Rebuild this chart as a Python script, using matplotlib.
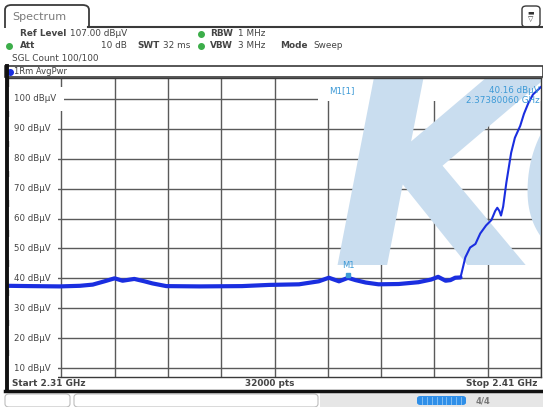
import matplotlib
matplotlib.use("Agg")
import matplotlib.pyplot as plt
from matplotlib.patches import Rectangle, FancyBboxPatch
from matplotlib.lines import Line2D
import numpy as np

# trace (GHz, dBuV)
freq_ghz = [2.3100, 2.3141, 2.3197, 2.3235, 2.3259, 2.3281, 2.3300, 2.3315, 2.3337,
            2.3356, 2.3371, 2.3397, 2.3459, 2.3539, 2.3590, 2.3646, 2.3683, 2.3702,
            2.3721, 2.3738, 2.3752, 2.3771, 2.3795, 2.3833, 2.3870, 2.3894, 2.3907,
            2.3921, 2.3930, 2.3939, 2.3949, 2.3954, 2.3958, 2.3967, 2.3977, 2.3986,
            2.3997, 2.4007, 2.4014, 2.4018, 2.4022, 2.4025, 2.4029, 2.4035, 2.4044,
            2.4051, 2.4061, 2.4068, 2.4076, 2.4085, 2.4094, 2.4100]
level_dbuv = [37.5, 37.4, 37.3, 37.5, 37.9, 39.0, 40.0, 39.2, 39.8,
              39.0, 38.3, 37.4, 37.3, 37.4, 37.8, 38.0, 39.0, 40.2,
              39.0, 40.16, 39.4, 38.6, 38.0, 38.1, 38.7, 39.6, 40.5,
              39.2, 39.4, 40.2, 40.3, 44.0, 47.0, 50.3, 51.5, 55.0,
              57.7, 59.5, 62.5, 63.6, 62.5, 61.0, 64.0, 72.0, 82.0,
              87.0, 91.0, 95.0, 98.5, 101.5, 103.0, 104.0]
n_flat = 31  # points before the steep rise (drawn thicker, noisy looking)

ref_level = 107
bottom_level = 7
y_ticks = [10, 20, 30, 40, 50, 60, 70, 80, 90, 100]
f_start, f_stop = 2.31, 2.41
marker_f = 2.3738006
marker_v = 40.16

W, H = 543, 407
def fx(x):
    return x / W
def fy(y):
    return 1 - y / H

fig = plt.figure(figsize=(W / 100, H / 100), dpi=100)
fig.patch.set_facecolor("white")

dark = "#3a3a3a"
txt = "#444444"
mk_blue = "#3d9ad6"
trace_blue = "#1a2ee0"

# ---- main diagram
ax = fig.add_axes([fx(8), fy(377), fx(541) - fx(8), fy(78) - fy(377)])
ax.set_xlim(f_start, f_stop)
ax.set_ylim(bottom_level, ref_level)
ax.set_xticks(np.linspace(f_start, f_stop, 11))
ax.set_yticks(y_ticks)
ax.tick_params(length=0, labelleft=False, labelbottom=False)
ax.grid(True, color="#5a5a5a", lw=1.0, zorder=1)
ax.set_axisbelow(True)
for s in ax.spines.values():
    s.set_color(dark)
    s.set_linewidth(1.0)
ax.spines["left"].set_visible(False)

# marker info box hides the grid
ax.add_patch(Rectangle(((318 - 8) / 533, (377 - 101) / 299), 1, 1,
                       transform=ax.transAxes, facecolor="white",
                       edgecolor="none", zorder=2))

# watermark
ax.text(2.3707, 44.5, "K", fontsize=190, fontweight="bold", style="italic",
        color="#c9ddef", zorder=2.5, clip_on=True)
ax.text(2.4055, 44.5, "C", fontsize=190, fontweight="bold", style="italic",
        color="#c9ddef", zorder=2.5, clip_on=True)

# y labels inside the diagram
for v in y_ticks:
    ax.text(0.012, v, f"{v} dBµV", transform=ax.get_yaxis_transform(),
            fontsize=6.2, color=txt, va="center", ha="left", zorder=3,
            bbox=dict(boxstyle="square,pad=0.85", facecolor="white", edgecolor="none"))

# trace
ax.plot(freq_ghz[:n_flat], level_dbuv[:n_flat], color=trace_blue, lw=3.0,
        solid_capstyle="round", zorder=5)
ax.plot(freq_ghz[n_flat - 1:], level_dbuv[n_flat - 1:], color=trace_blue, lw=1.5,
        zorder=5)

# marker
ax.plot([marker_f], [marker_v + 0.8], marker="s", ms=3, color=mk_blue, zorder=6)
ax.text(marker_f, marker_v + 2.6, "M1", fontsize=6, color=mk_blue,
        ha="center", va="bottom", zorder=6)
ax.text(2.3703, 102.8, "M1[1]", fontsize=6.3, color=mk_blue, ha="left",
        va="center", zorder=6)
ax.text(0.997, 102.8, "40.16 dBµV", transform=ax.get_yaxis_transform(),
        fontsize=6.3, color=mk_blue, ha="right", va="center", zorder=6)
ax.text(0.997, 99.4, "2.37380060 GHz", transform=ax.get_yaxis_transform(),
        fontsize=6.3, color=mk_blue, ha="right", va="center", zorder=6)

# ---- header
tab = FancyBboxPatch((fx(5), fy(34)), fx(89) - fx(5), fy(5) - fy(34),
                     boxstyle="round,pad=0,rounding_size=0.012",
                     transform=fig.transFigure, facecolor="white",
                     edgecolor=dark, lw=1.3, zorder=0.5)
fig.patches.append(tab)
fig.patches.append(Rectangle((fx(3), fy(40)), fx(92) - fx(3), fy(27.6) - fy(40),
                             transform=fig.transFigure, facecolor="white",
                             edgecolor="none", zorder=0.8))
fig.add_artist(Line2D([fx(88.3), fx(543)], [fy(27), fy(27)], color=dark, lw=1.5))
fig.text(fx(12), fy(17), "Spectrum", fontsize=8, color="#7a7a7a", va="center")
icon = FancyBboxPatch((fx(522), fy(27)), fx(540) - fx(522), fy(6) - fy(27),
                      boxstyle="round,pad=0,rounding_size=0.008",
                      transform=fig.transFigure, facecolor="white",
                      edgecolor=dark, lw=1.0)
fig.patches.append(icon)
fig.text(fx(531), fy(12), "▬", fontsize=5, color="#333333", ha="center", va="center")
fig.text(fx(531), fy(19), "▽", fontsize=5, color="#333333", ha="center", va="center")

hs = 6.4
fig.text(fx(20), fy(34), "Ref Level", fontsize=hs, fontweight="bold", color=txt, va="center")
fig.text(fx(70), fy(34), "107.00 dBµV", fontsize=hs, color=txt, va="center")
fig.text(fx(20), fy(46), "Att", fontsize=hs, fontweight="bold", color=txt, va="center")
fig.text(fx(127), fy(46), "10 dB", fontsize=hs, color=txt, va="center", ha="right")
fig.text(fx(137), fy(46), "SWT", fontsize=hs, fontweight="bold", color=txt, va="center")
fig.text(fx(163), fy(46), "32 ms", fontsize=hs, color=txt, va="center")
fig.text(fx(210), fy(34), "RBW", fontsize=hs, fontweight="bold", color=txt, va="center")
fig.text(fx(238), fy(34), "1 MHz", fontsize=hs, color=txt, va="center")
fig.text(fx(210), fy(46), "VBW", fontsize=hs, fontweight="bold", color=txt, va="center")
fig.text(fx(238), fy(46), "3 MHz", fontsize=hs, color=txt, va="center")
fig.text(fx(280), fy(46), "Mode", fontsize=hs, fontweight="bold", color=txt, va="center")
fig.text(fx(313), fy(46), "Sweep", fontsize=hs, color=txt, va="center")
fig.text(fx(12), fy(58), "SGL Count 100/100", fontsize=hs, color=txt, va="center")
for (x, y) in [(9, 46), (201, 34), (201, 46)]:
    fig.add_artist(Line2D([fx(x)], [fy(y)], marker="o", ms=4, color="#3cae4a"))

# trace header row
fig.add_artist(Rectangle((fx(5), fy(77)), fx(543) - fx(5), fy(66) - fy(77),
                         transform=fig.transFigure, facecolor="white",
                         edgecolor=dark, lw=1.2))
fig.add_artist(Line2D([fx(10)], [fy(71.5)], marker="o", ms=4, color="#1a2ee0"))
fig.text(fx(14), fy(71.5), "1Rm AvgPwr", fontsize=6, color=txt, va="center")

# left frame line
fig.add_artist(Line2D([fx(6.5), fx(6.5)], [fy(66), fy(391)], color="#111111", lw=2.8))

# ---- footer
fig.text(fx(12), fy(384), "Start 2.31 GHz", fontsize=6.4, fontweight="bold", color=txt, va="center")
fig.text(fx(270), fy(384), "32000 pts", fontsize=6.4, fontweight="bold", color=txt, va="center", ha="center")
fig.text(fx(537), fy(384), "Stop 2.41 GHz", fontsize=6.4, fontweight="bold", color=txt, va="center", ha="right")
fig.add_artist(Line2D([fx(5), fx(543)], [fy(391), fy(391)], color="#111111", lw=2.5))

fig.add_artist(Rectangle((fx(320), 0), fx(543) - fx(320), fy(393),
                         transform=fig.transFigure, facecolor="#e6e6e6",
                         edgecolor="none"))
for (x0, x1) in [(5, 70), (74, 318)]:
    b = FancyBboxPatch((fx(x0), fy(407)), fx(x1) - fx(x0), fy(394) - fy(407),
                       boxstyle="round,pad=0,rounding_size=0.008",
                       transform=fig.transFigure, facecolor="white",
                       edgecolor="#bdbdbd", lw=0.8)
    fig.patches.append(b)
bar = FancyBboxPatch((fx(417), fy(405)), fx(466) - fx(417), fy(396) - fy(405),
                     boxstyle="round,pad=0,rounding_size=0.006",
                     transform=fig.transFigure, facecolor="#2f8fe8",
                     edgecolor="none")
fig.patches.append(bar)
for i in range(1, 10):
    xs = 417 + i * 49 / 10
    fig.add_artist(Line2D([fx(xs), fx(xs)], [fy(404), fy(397)], color="#8cc4f5", lw=0.6))
fig.text(fx(476), fy(400.5), "4/4", fontsize=6, fontweight="bold", color="#777777", va="center")

fig.savefig("out.png", dpi=100)
